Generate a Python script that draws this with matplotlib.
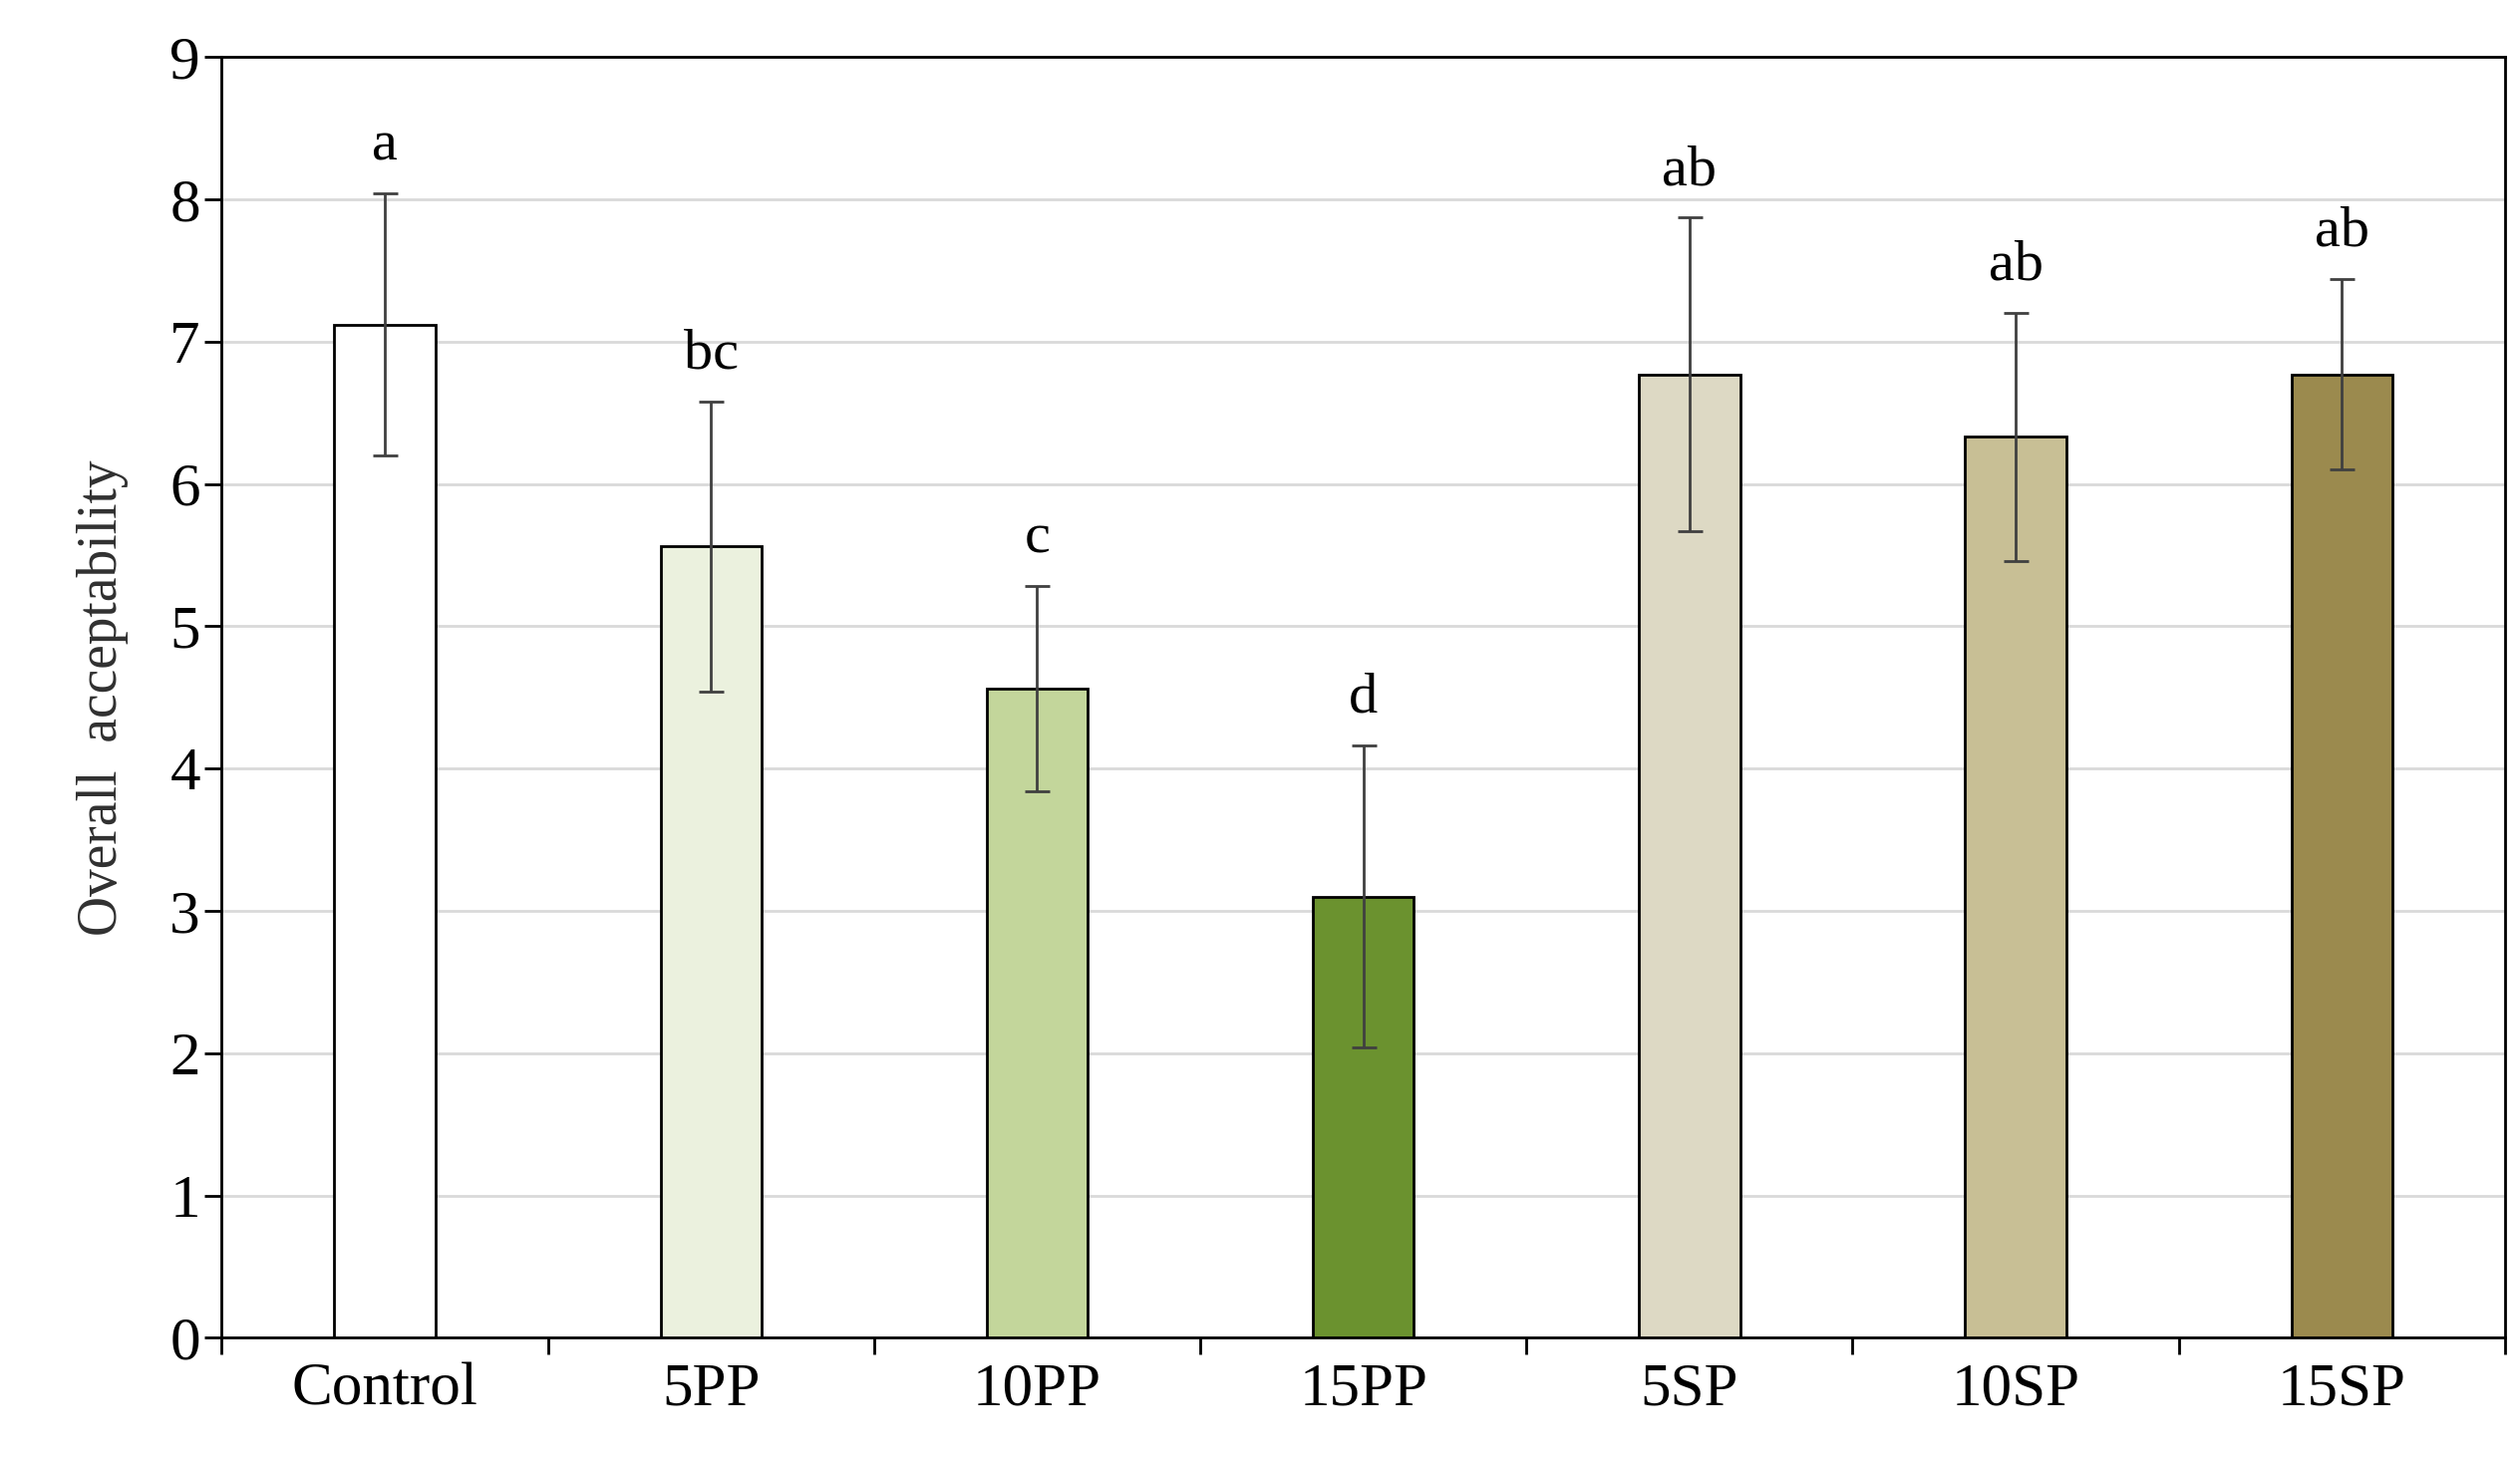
import matplotlib
matplotlib.use("Agg")
import matplotlib.pyplot as plt
import numpy as np

categories = ["Control", "5PP", "10PP", "15PP", "5SP", "10SP", "15SP"]
means = [7.12, 5.56, 4.56, 3.10, 6.77, 6.33, 6.77]
errors = [0.92, 1.02, 0.72, 1.06, 1.10, 0.87, 0.67]
letters = ["a", "bc", "c", "d", "ab", "ab", "ab"]
colors = ["#ffffff", "#ebf1de", "#c3d69b", "#6b922f", "#ddd9c4", "#c8bf95", "#9b8a4e"]

plt.rcParams["font.family"] = ["Liberation Serif", "DejaVu Serif"]

fig = plt.figure(figsize=(25.28, 14.64), dpi=100)
ax = fig.add_axes([0.088, 0.083, 0.906, 0.878])

x = np.arange(len(categories))
ax.bar(x, means, width=0.31, color=colors, edgecolor="black", linewidth=2, zorder=3)
ax.errorbar(x, means, yerr=errors, fmt="none", ecolor="#404040", elinewidth=2,
            capsize=9, capthick=2, zorder=4)
for xi, m, e, t in zip(x, means, errors, letters):
    ax.text(xi, m + e + 0.15, t, ha="center", va="bottom", fontsize=42)

ax.set_xlim(-0.5, len(categories) - 0.5)
ax.set_ylim(0, 9)
ax.set_yticks(range(10))
ax.tick_params(axis="y", labelsize=44, width=2, length=12, direction="out")
ax.set_xticks(np.arange(len(categories) + 1) - 0.5, minor=False)
ax.set_xticklabels([])
ax.tick_params(axis="x", width=2, length=12, direction="out")
ax.set_xticks(x, minor=True)
ax.set_xticklabels(categories, minor=True)
ax.tick_params(axis="x", which="minor", length=0, labelsize=44, pad=18)
ax.grid(axis="y", color="#d9d9d9", linewidth=2, zorder=0)
for s in ax.spines.values():
    s.set_linewidth(2)
ax.set_ylabel("Overall  acceptability", fontsize=40, color="#303030", labelpad=30)

fig.savefig("out.png", dpi=100)
